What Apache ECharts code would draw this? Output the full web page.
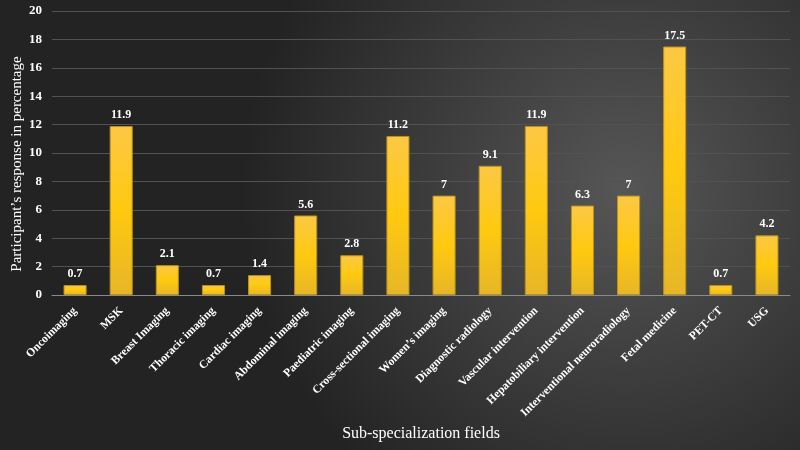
<!DOCTYPE html>
<html><head><meta charset="utf-8">
<script src="https://cdn.jsdelivr.net/npm/echarts@6/dist/echarts.min.js"></script>
<style>html,body{margin:0;padding:0;}#c{width:800px;height:450px;}</style>
</head><body><div id="c"></div>
<script>
const categories = ["Oncoimaging","MSK","Breast Imaging","Thoracic imaging","Cardiac imaging","Abdominal imaging","Paediatric imaging","Cross-sectional imaging","Women’s imaging","Diagnostic radiology","Vascular intervention","Hepatobiliary intervention","Interventional neuroradiology","Fetal medicine","PET-CT","USG"];
const values = [0.7,11.9,2.1,0.7,1.4,5.6,2.8,11.2,7,9.1,11.9,6.3,7,17.5,0.7,4.2];
const yTicks = {min:0,max:20,interval:2};
const serif = '"Liberation Serif","Times New Roman",serif';
const chart = echarts.init(document.getElementById('c'));
chart.setOption({
  backgroundColor: {type:'radial',x:0.78,y:0.42,r:0.85,colorStops:[{offset:0,color:'#565656'},{offset:1,color:'#232323'}]},
  grid:{left:52,right:10,top:11,bottom:155,containLabel:false,outerBoundsMode:'none'},
  xAxis:{type:'category',data:categories,
    axisLine:{lineStyle:{color:'#8a8a8a'}},axisTick:{show:false},
    axisLabel:{rotate:45,interval:0,color:'#ffffff',fontFamily:serif,fontWeight:'bold',fontSize:11.6,margin:14},
    name:'Sub-specialization fields',nameLocation:'middle',nameGap:124,
    nameTextStyle:{color:'#ffffff',fontFamily:serif,fontSize:16}},
  yAxis:{type:'value',min:yTicks.min,max:yTicks.max,interval:yTicks.interval,
    axisLine:{show:false},axisTick:{show:false},
    splitLine:{lineStyle:{color:'#525252'}},
    axisLabel:{color:'#ffffff',fontFamily:serif,fontWeight:'bold',fontSize:13,margin:10},
    name:'Participant’s response in percentage',nameLocation:'middle',nameGap:27,nameMoveOverlap:false,
    nameTextStyle:{color:'#ffffff',fontFamily:serif,fontSize:15,padding:[0,22,0,0]}},
  series:[{type:'bar',data:values,barWidth:'50%',
    itemStyle:{color:{type:'linear',x:0,y:0,x2:0,y2:1,colorStops:[{offset:0,color:'#FCC845'},{offset:0.5,color:'#FFC90F'},{offset:1,color:'#E6B628'}]},borderColor:'#B8921C',borderWidth:1},
    label:{show:true,position:'top',color:'#ffffff',fontFamily:serif,fontWeight:'bold',fontSize:12,distance:5}}]
});
</script></body></html>
